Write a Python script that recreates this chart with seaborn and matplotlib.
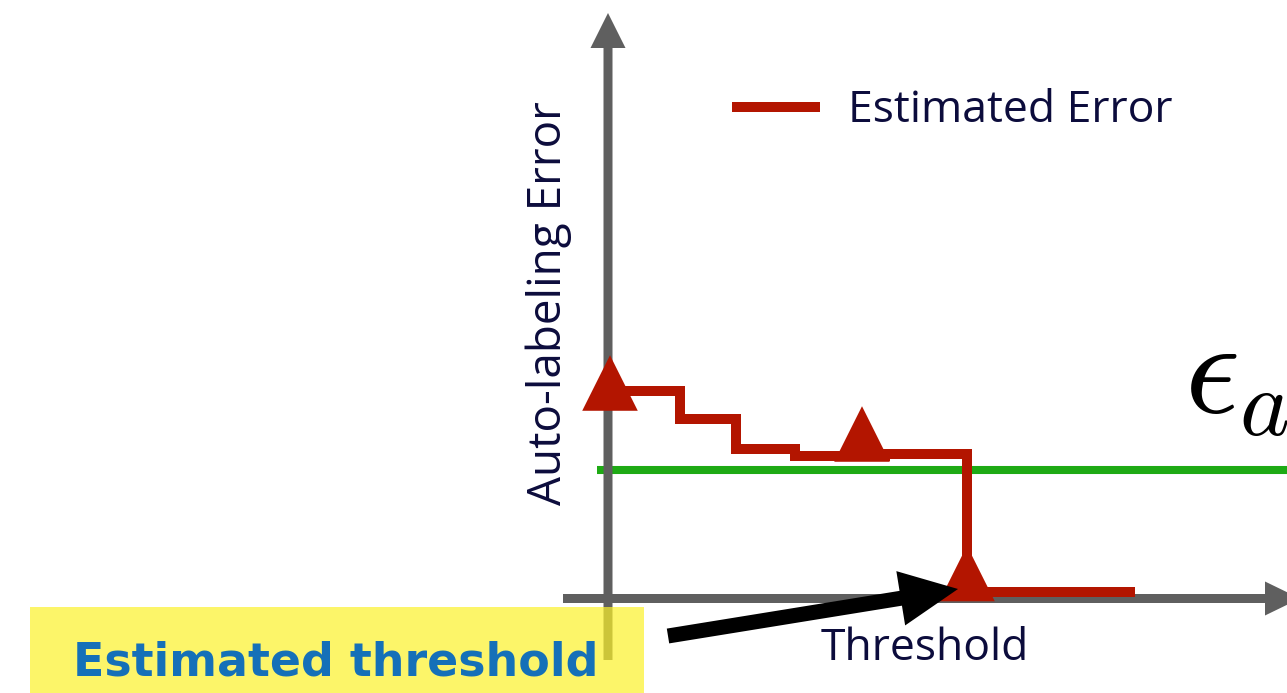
import matplotlib
matplotlib.use('Agg')
import matplotlib.pyplot as plt
from matplotlib.patches import Rectangle
import seaborn as sns
import pandas as pd

# ---- data (origin = where the two axes cross, 1 unit = 100 px) ----
step_x = [0.02, 0.72, 1.28, 1.87, 2.77, 3.59, 5.27]
step_y = [2.08, 1.80, 1.50, 1.43, 1.45, 0.065, 0.065]
marker_x = [0.02, 2.54, 3.59]
marker_y = [2.155, 1.645, 0.25]
eps_level = 1.285
eps_start = -0.11

series_label = 'Estimated Error'
x_label = 'Threshold'
y_label = 'Auto-labeling Error'
note_text = 'Estimated threshold'

RED = '#b31500'
GREEN = '#1eaa14'
GRAY = '#5f5f5f'
NAVY = '#0c0c3c'
BLUE = '#1570b8'

W, H, DPI = 1287, 693, 100
OX, OY = 608, 598.5


def P(px, py):
    # pixel position -> data position
    return (px - OX) / 100, (OY - py) / 100


sns.set_theme(style='white')
plt.rcParams['font.family'] = ['Open Sans', 'DejaVu Sans']
plt.rcParams['mathtext.fontset'] = 'cm'

fig = plt.figure(figsize=(W / DPI, H / DPI), dpi=DPI)
ax = fig.add_axes([0, 0, 1, 1])
ax.set_xlim(P(0, 0)[0], P(W, 0)[0])
ax.set_ylim(P(0, H)[1], P(0, 0)[1])
ax.axis('off')

# epsilon_a level
ax.hlines(eps_level, eps_start, P(W, 0)[0], color=GREEN, lw=5.8, zorder=2)

# axes arrows
bx, by = P(OX, 660)
tx, ty = P(OX, 13)
ax.arrow(bx, by, 0, ty - by, width=0.09, head_width=0.35, head_length=0.35,
         length_includes_head=True, color=GRAY, lw=0, zorder=3)
lx, ly = P(563, OY)
rx, ry = P(1300, OY)
ax.arrow(lx, ly, rx - lx, 0, width=0.09, head_width=0.34, head_length=0.35,
         length_includes_head=True, color=GRAY, lw=0, zorder=3)

# estimated error step curve
df = pd.DataFrame({'x': step_x, 'y': step_y})
sns.lineplot(data=df, x='x', y='y', ax=ax, color=RED, lw=7.2, sort=False,
             estimator=None, drawstyle='steps-post', solid_joinstyle='miter',
             solid_capstyle='butt', label=series_label, zorder=4)
sns.scatterplot(x=marker_x, y=marker_y, ax=ax, marker='^', s=40 ** 2,
                color=RED, edgecolor='none', zorder=5)

# black pointer arrow
ax_, ay_ = P(668, 636)
hx, hy = P(958, 589)
ax.arrow(ax_, ay_, hx - ax_, hy - ay_, width=0.15, head_width=0.55,
         head_length=0.58, length_includes_head=True, color='black', lw=0,
         zorder=6)

# yellow note box
rx0, ry0 = P(30, 700)
ax.add_patch(Rectangle((rx0, ry0), 6.14, 0.93, facecolor=(252 / 255, 242 / 255, 42 / 255),
                       alpha=0.7, edgecolor='none', zorder=7))
ax.text(*P(336, 676), note_text, ha='center', va='baseline', fontsize=33,
        fontweight='bold', color=BLUE, family=['DejaVu Sans'], zorder=8)

# labels
ax.text(*P(925, 660), x_label, ha='center', va='baseline', fontsize=32,
        color=NAVY, zorder=8)
ax.text(*P(549, 303), y_label, ha='center', va='center', rotation=90,
        fontsize=33, color=NAVY, zorder=8)
ax.text(*P(1184, 412), r'$\epsilon_a$', ha='left', va='baseline', fontsize=98,
        color='black', zorder=8)

leg = ax.legend(loc='center left', bbox_to_anchor=(732 / W, 1 - 111 / H),
                bbox_transform=fig.transFigure, frameon=False, borderpad=0,
                borderaxespad=0, handlelength=1.98, handletextpad=0.63,
                fontsize=32)
for t in leg.get_texts():
    t.set_color(NAVY)

fig.savefig('out.png', dpi=DPI)
